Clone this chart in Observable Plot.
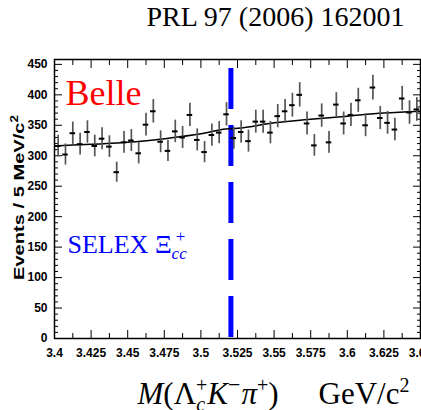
<!DOCTYPE html>
<html><head><meta charset="utf-8">
<script src="https://cdn.jsdelivr.net/npm/d3@7"></script>
<script src="https://cdn.jsdelivr.net/npm/@observablehq/plot@0.6"></script>
<style>body{margin:0;background:#fff;overflow:hidden}</style>
</head><body><div id="chart"></div>
<script>
// ---- data ----
const massMin = 3.4;          // GeV/c^2, first bin edge
const binWidth = 0.005;       // 5 MeV/c^2 bins
const counts = [316,302,337,319,339,316,328,315,273,322,325,304,351,373,323,308,340,330,367,326,
                306,334,338,368,329,339,324,356,356,338,365,373,383,400,353,317,366,322,384,353,
                367,391,350,412,362,354,343,394,371,376];
const fitMass   = [3.40,3.425,3.45,3.475,3.50,3.517,3.525,3.55,3.575,3.60,3.625,3.65];
const fitCounts = [316, 319,  322, 328,  336, 344,  345,  354, 360,  365, 370,  373];
const selexMass = [3.5205];
const xTicks = [3.4,3.425,3.45,3.475,3.5,3.525,3.55,3.575,3.6,3.625,3.65];
const yTicks = [0,50,100,150,200,250,300,350,400,450];
const titleText = ["PRL 97 (2006) 162001"];
const belleText = ["Belle"];
const selexText = ["SELEX Ξ"];
const yTitle = ["Events / 5 MeV/c"];
const xTitle = ["M"];

const xMinor = xTicks.slice(0, -1).map(d => d + 0.0125);
const yMinor = d3.range(0, 460, 10).filter(d => d % 50 !== 0);

const bins = counts.map((n, i) => ({
  m: massMin + binWidth * (i + 0.5),
  lo: massMin + binWidth * i + 0.0006,
  hi: massMin + binWidth * (i + 1) - 0.0006,
  n, e: Math.sqrt(n)
}));
const fit = fitMass.map((m, i) => ({m, n: fitCounts[i]}));

const serif = "Liberation Serif, Times New Roman, serif";
const sans = "Liberation Sans, Arial, sans-serif";

const chart = Plot.plot({
  width: 421, height: 410,
  marginTop: 59, marginBottom: 72, marginLeft: 54, marginRight: 1,
  style: {background: "white", fontFamily: sans, overflow: "visible"},
  x: {domain: [3.4, 3.65], label: null},
  y: {domain: [0, 458], label: null},
  marks: [
    // inward ticks on all four sides
    Plot.axisX(xTicks, {anchor: "bottom", tickSize: -8, fill: "none", label: null}),
    Plot.axisX(xMinor, {anchor: "bottom", tickSize: -5, fill: "none", label: null}),
    Plot.axisX(xTicks, {anchor: "top", tickSize: -8, fill: "none", label: null}),
    Plot.axisX(xMinor, {anchor: "top", tickSize: -5, fill: "none", label: null}),
    Plot.axisY(yTicks, {anchor: "left", tickSize: -8, fill: "none", label: null}),
    Plot.axisY(yMinor, {anchor: "left", tickSize: -4, fill: "none", label: null}),
    Plot.axisY(yTicks, {anchor: "right", tickSize: -8, fill: "none", label: null}),
    Plot.axisY(yMinor, {anchor: "right", tickSize: -4, fill: "none", label: null}),
    // tick labels
    Plot.axisX(xTicks, {anchor: "bottom", tickSize: 0, tickPadding: 10, label: null,
      tickFormat: d => String(+d.toFixed(3)), fontSize: 12, fontWeight: "bold", fill: "black"}),
    Plot.axisY(yTicks, {anchor: "left", tickSize: 0, tickPadding: 7, label: null,
      fontSize: 12, fontWeight: "bold", fill: "black"}),
    // SELEX mass line
    Plot.ruleX(selexMass, {x: d => d, stroke: "#0000ff", strokeWidth: 5,
      strokeDasharray: "41,16", insetTop: 9}),
    // fit
    Plot.line(fit, {x: "m", y: "n", curve: "monotone-x", stroke: "black", strokeWidth: 1.5}),
    // data with errors
    Plot.ruleX(bins, {x: "m", y1: d => d.n - d.e, y2: d => d.n + d.e, stroke: "#555", strokeWidth: 1.7}),
    Plot.ruleY(bins, {y: "n", x1: "lo", x2: "hi", stroke: "black", strokeWidth: 2}),
    Plot.frame({stroke: "black", strokeWidth: 1.5}),
    // texts
    Plot.text(titleText, {text: d => d, frameAnchor: "top", dx: 38, dy: -34, lineAnchor: "bottom",
      fontFamily: serif, fontSize: 28, fill: "black"}),
    Plot.text(belleText, {text: d => d, frameAnchor: "top-left", textAnchor: "start", dx: 11, dy: 45,
      lineAnchor: "bottom", fontFamily: serif, fontSize: 36, fill: "#ff0000"}),
    Plot.text(selexText, {text: d => d, frameAnchor: "top-left", textAnchor: "start", dx: 13, dy: 193,
      lineAnchor: "bottom", fontFamily: serif, fontSize: 26, fill: "#0000ff", ariaLabel: () => "selex"}),
    Plot.text(yTitle, {text: d => d, frameAnchor: "left", textAnchor: "start", dx: -35, dy: 81, rotate: -90,
      fontFamily: sans, fontWeight: "bold", fontSize: 15, fill: "black", ariaLabel: () => "ytitle"}),
    Plot.text(xTitle, {text: d => d, frameAnchor: "bottom-left", textAnchor: "start", dx: 83, dy: 65,
      lineAnchor: "bottom", fontFamily: serif, fontSize: 31, fill: "black", ariaLabel: () => "xtitle"})
  ]
});
document.getElementById("chart").appendChild(chart);

// rich text (sub/superscripts)
function addParts(textSel, parts) {
  parts.forEach(p => {
    const s = textSel.append("tspan").text(p.t);
    Object.entries(p.a || {}).forEach(([k, v]) => s.attr(k, v));
  });
}
function pick(name) {
  let s = d3.select(chart).select(`text[aria-label="${name}"]`);
  if (s.empty()) s = d3.select(chart).select(`[aria-label="${name}"] text`);
  return s;
}
const sel = pick("selex");
addParts(sel, [
  {t: "cc", a: {"font-size": 17, "font-style": "italic", dy: 6}},
  {t: "+", a: {"font-size": 17, dx: -11, dy: -17}}
]);
const yt = pick("ytitle");
addParts(yt, [{t: "2", a: {"font-size": 10, dy: -6}}]);
yt.attr("textLength", 165).attr("lengthAdjust", "spacingAndGlyphs");
const xt = pick("xtitle");
xt.text(null);
addParts(xt, [
  {t: "M", a: {"font-style": "italic"}},
  {t: "(Λ"},
  {t: "c", a: {"font-size": 20, "font-style": "italic", dy: 7}},
  {t: "+", a: {"font-size": 20, dx: -9, dy: -19}},
  {t: "K", a: {"font-style": "italic", dy: 12}},
  {t: "−", a: {"font-size": 22, dy: -12}},
  {t: "π", a: {"font-style": "italic", dx: 1, dy: 12}},
  {t: "+", a: {"font-size": 20, dy: -12}},
  {t: ")", a: {dy: 12}},
  {t: "GeV/c", a: {dx: 40}},
  {t: "2", a: {"font-size": 20, dy: -12}}
]);
</script>
</body></html>
